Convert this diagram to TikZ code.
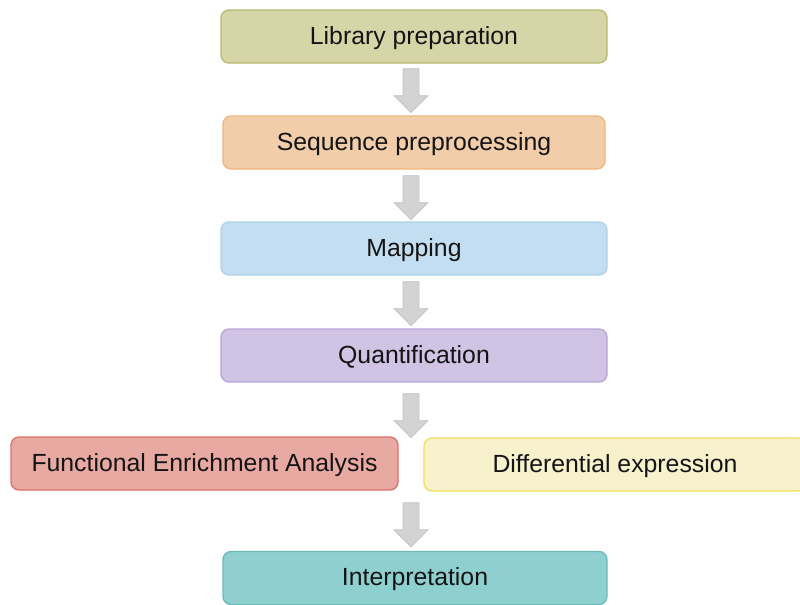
\documentclass[tikz,border=0pt]{standalone}
\usepackage{fontspec}
\setmainfont{Liberation Sans}
\usetikzlibrary{calc}

\definecolor{libfill}{HTML}{D6D5A7}
\definecolor{libedge}{HTML}{B9B76F}
\definecolor{seqfill}{HTML}{F1CDA9}
\definecolor{seqedge}{HTML}{EFB67C}
\definecolor{mapfill}{HTML}{C4DEF1}
\definecolor{mapedge}{HTML}{ADD1EA}
\definecolor{quantfill}{HTML}{D0C3E3}
\definecolor{quantedge}{HTML}{B9A4D8}
\definecolor{feafill}{HTML}{E8A9A2}
\definecolor{feaedge}{HTML}{DD706A}
\definecolor{difffill}{HTML}{F7F1CC}
\definecolor{diffedge}{HTML}{F1E05A}
\definecolor{interpfill}{HTML}{8ECFD0}
\definecolor{interpedge}{HTML}{6DB9BA}
\definecolor{arrowgray}{HTML}{D3D3D3}
\definecolor{arrowedge}{HTML}{C2C2C2}

% gray block arrow hanging down from a coordinate (its top centre)
\newcommand\flowarrow[1]{%
  \draw[flow] ($(#1)+(-8,0)$) -- ++(0,27) -- ++(-9,0) -- ++(17,17)
    -- ++(17,-17) -- ++(-9,0) -- ++(0,-27) -- cycle;}

\begin{document}
\begin{tikzpicture}[x=0.75pt,y=-0.75pt,
  stepbox/.style={draw, line width=1pt, rounded corners=6pt,
    minimum height={53*0.75pt}, inner sep=0pt,
    text height=14pt, text depth=2.75pt,
    font=\fontsize{18.6pt}{22pt}\selectfont, text=black!92},
  flow/.style={fill=arrowgray, draw=arrowedge, line width=0.6pt, line join=miter}]
\useasboundingbox (0,0) rectangle (800,604);
\clip (0,0) rectangle (800,604);

% pipeline steps
\node[stepbox, fill=libfill, draw=libedge, minimum width={386*0.75pt}]
  (lib) at (414,36.5) {Library preparation};
\node[stepbox, fill=seqfill, draw=seqedge, minimum width={382*0.75pt}]
  (seq) at (414,142.5) {Sequence preprocessing};
\node[stepbox, fill=mapfill, draw=mapedge, minimum width={386*0.75pt}]
  (map) at (414,248.5) {Mapping};
\node[stepbox, fill=quantfill, draw=quantedge, minimum width={386*0.75pt}]
  (quant) at (414,355.5) {Quantification};
\node[stepbox, fill=feafill, draw=feaedge, minimum width={387*0.75pt}]
  (fea) at (204.5,463.5) {Functional Enrichment Analysis};
\node[stepbox, fill=difffill, draw=diffedge, minimum width={382*0.75pt}]
  (diff) at (615,464.5) {Differential expression};
\node[stepbox, fill=interpfill, draw=interpedge, minimum width={384*0.75pt}]
  (interp) at (415,578) {Interpretation};

% arrow anchors below each step
\coordinate (a1) at ($(lib.south)+(-3,5)$);
\coordinate (a2) at ($(seq.south)+(-3,6)$);
\coordinate (a3) at ($(map.south)+(-3,6)$);
\coordinate (a4) at ($(quant.south)+(-3,11)$);
\coordinate (a5) at ($(interp.north)+(-4,-48)$);

\flowarrow{a1}
\flowarrow{a2}
\flowarrow{a3}
\flowarrow{a4}
\flowarrow{a5}
\end{tikzpicture}
\end{document}
